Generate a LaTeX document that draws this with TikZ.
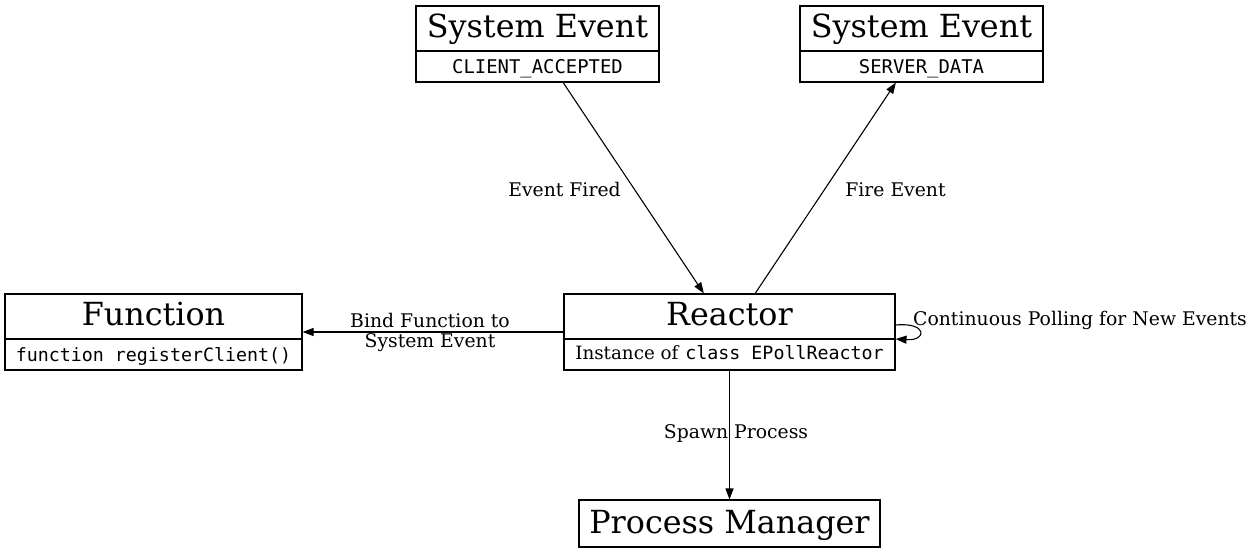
\documentclass[tikz,border=0pt]{standalone}
\usepackage{fontspec}
\setmainfont{DejaVu Serif}
\setmonofont{DejaVu Sans Mono}
\usetikzlibrary{arrows.meta,calc}
\begin{document}
\begin{tikzpicture}[x=1pt,y=-1pt,
  box/.style={draw=black, line width=1.1pt, inner sep=0pt, minimum width=#1},
  ttl/.style={anchor=base, inner sep=0pt, font=\fontsize{31.8}{32}\selectfont},
  sub/.style={anchor=base, inner sep=0pt, font=\fontsize{18.3}{19}\selectfont},
  lbl/.style={anchor=base, inner sep=0pt, font=\fontsize{18.8}{19}\selectfont},
  edge/.style={-{Triangle[length=11pt,width=8pt]}, line width=1.1pt},
  divider/.style={line width=1.1pt}]
\useasboundingbox (0,0) rectangle (1252,554);
% boxes
\node[box=243pt, minimum height=76pt] (se1) at (537.5,44) {};
\node[box=243pt, minimum height=76pt] (se2) at (921.5,44) {};
\node[box=297pt, minimum height=76pt] (fn) at (153.5,332) {};
\node[box=331pt, minimum height=76pt] (re) at (729.5,332) {};
\node[box=301pt, minimum height=47pt] (pm) at (729.5,523.5) {};
% dividers
\draw[divider] (se1.west |- 0,51) -- (se1.east |- 0,51);
\draw[divider] (se2.west |- 0,51) -- (se2.east |- 0,51);
\draw[divider] (fn.west |- 0,339) -- (fn.east |- 0,339);
\draw[divider] (re.west |- 0,339) -- (re.east |- 0,339);
% texts
\node[ttl] (se1t) at (537.5,37) {System Event};
\node[sub, font=\fontsize{18.9}{19}\selectfont] (se1s) at (537.5,73) {\ttfamily CLIENT\_ACCEPTED};
\node[ttl] (se2t) at (921.5,37) {System Event};
\node[sub, font=\fontsize{18.9}{19}\selectfont] (se2s) at (921.5,73) {\ttfamily SERVER\_DATA};
\node[ttl] (fnt) at (153.5,325) {Function};
\node[sub] (fns) at (153.5,361) {\ttfamily function registerClient()};
\node[ttl] (ret) at (729.5,325) {Reactor};
\node[sub] (res) at (729.5,359) {Instance of \texttt{class EPollReactor}};
\node[ttl] (pmt) at (729.5,533) {Process Manager};
% edges
\draw[edge] (se1) -- (re);
\draw[edge] (re) -- (se2);
\draw[edge] (re) -- (fn);
\draw[edge] (re) -- (pm);
\draw[edge] ($(re.east)+(0,-7)$) .. controls ($(re.east)+(32,-10)$) and ($(re.east)+(32,9)$) .. ($(re.east)+(0,7)$);
% edge labels
\node[lbl] (l1) at (564.5,196) {Event Fired};
\node[lbl] (l2) at (895.5,196) {Fire Event};
\node[lbl] (l3a) at (430,327) {Bind Function to};
\node[lbl] (l3b) at (430,347) {System Event};
\node[lbl] (l4) at (736,438) {Spawn Process};
\node[lbl] (l5) at (1080,325) {Continuous Polling for New Events};
\end{tikzpicture}
\end{document}
